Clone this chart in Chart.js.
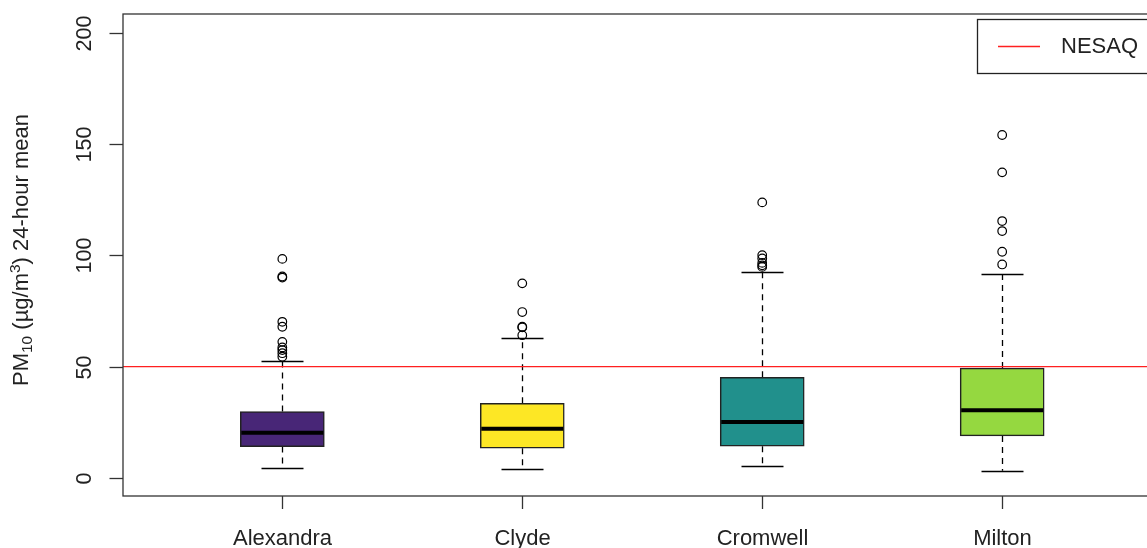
<!DOCTYPE html>
<html>
<head>
<meta charset="utf-8">
<script src="https://cdn.jsdelivr.net/npm/chart.js@4/dist/chart.umd.min.js"></script>
<style>
  html, body { margin: 0; padding: 0; background: #fff; overflow: hidden; }
  #wrap { width: 1167px; height: 548px; }
</style>
</head>
<body>
<div id="wrap"><canvas id="pmChart" width="1167" height="548"></canvas></div>
<script>
// Dữ liệu: các trạm và thống kê hộp
const sites = ['Alexandra', 'Clyde', 'Cromwell', 'Milton'];
const whiskerLow = [4.4, 3.8, 5.2, 3.2];
const q1 = [14.0, 13.3, 14.2, 18.8];
const median = [20.2, 22.0, 25.1, 30.4];
const q3 = [29.8, 33.5, 45.2, 49.3];
const whiskerHigh = [52.4, 62.9, 92.6, 91.4];
const outAlexandra = [98.4, 90.5, 90.0, 70.1, 67.9, 61.1, 58.6, 57.4, 56.0, 54.4];
const outClyde = [87.4, 74.5, 67.9, 67.6, 64.1];
const outCromwell = [123.8, 100.1, 98.6, 96.6, 95.5, 94.8];
const outMilton = [154.1, 137.3, 115.4, 110.9, 101.6, 95.9];
const boxColors = ['#482677', '#FDE725', '#21908C', '#95D840'];
const yTicks = [0, 50, 100, 150, 200];
const nesaq = 50;

const X_MIN = 0.336, X_MAX = 4.664;
const FONT = '"Liberation Sans", Arial, sans-serif';

const outliers = [outAlexandra, outClyde, outCromwell, outMilton]
  .flatMap((arr, i) => arr.map(v => ({ x: i + 1, y: v })));

// Vẽ râu, trung vị, trục và chú thích theo kiểu R
const boxplotExtras = {
  id: 'boxplotExtras',
  beforeDatasetsDraw(chart) {
    const { ctx, scales: { x, y } } = chart;
    ctx.save();
    ctx.strokeStyle = '#000';
    ctx.lineWidth = 1.3;
    sites.forEach((s, i) => {
      const cx = Math.round(x.getPixelForValue(i + 1)) + 0.5;
      const half = (x.getPixelForValue(i + 1.0875) - x.getPixelForValue(i + 1));
      ctx.setLineDash([6, 5]);
      ctx.beginPath();
      ctx.moveTo(cx, y.getPixelForValue(q3[i]));
      ctx.lineTo(cx, y.getPixelForValue(whiskerHigh[i]));
      ctx.moveTo(cx, y.getPixelForValue(q1[i]));
      ctx.lineTo(cx, y.getPixelForValue(whiskerLow[i]));
      ctx.stroke();
      ctx.setLineDash([]);
      ctx.beginPath();
      [whiskerHigh[i], whiskerLow[i]].forEach(v => {
        const py = Math.round(y.getPixelForValue(v)) + 0.5;
        ctx.moveTo(cx - half, py);
        ctx.lineTo(cx + half, py);
      });
      ctx.stroke();
    });
    ctx.restore();
  },
  afterDatasetsDraw(chart) {
    const { ctx, chartArea: a, scales: { x, y } } = chart;
    ctx.save();
    // trung vị
    ctx.strokeStyle = '#000';
    ctx.lineWidth = 4;
    sites.forEach((s, i) => {
      const l = x.getPixelForValue(i + 1 - 0.175) + 1;
      const r = x.getPixelForValue(i + 1 + 0.175) - 1;
      const py = y.getPixelForValue(median[i]);
      ctx.beginPath();
      ctx.moveTo(l, py);
      ctx.lineTo(r, py);
      ctx.stroke();
    });
    // khung
    ctx.strokeStyle = '#333';
    ctx.lineWidth = 1.3;
    ctx.strokeRect(a.left, a.top, a.right - a.left, a.bottom - a.top);
    // trục y
    ctx.fillStyle = '#222';
    ctx.font = '21.5px ' + FONT;
    yTicks.forEach(t => {
      const py = Math.round(y.getPixelForValue(t)) + 0.5;
      ctx.beginPath();
      ctx.moveTo(a.left - 13.5, py);
      ctx.lineTo(a.left, py);
      ctx.stroke();
      ctx.save();
      ctx.translate(90.5, py);
      ctx.rotate(-Math.PI / 2);
      ctx.textAlign = 'center';
      ctx.textBaseline = 'alphabetic';
      ctx.fillText(String(t), 0, 0);
      ctx.restore();
    });
    // trục x
    ctx.font = '22px ' + FONT;
    ctx.textAlign = 'center';
    ctx.textBaseline = 'alphabetic';
    sites.forEach((s, i) => {
      const px = Math.round(x.getPixelForValue(i + 1)) + 0.5;
      ctx.beginPath();
      ctx.moveTo(px, a.bottom);
      ctx.lineTo(px, a.bottom + 13);
      ctx.stroke();
      ctx.fillText(s, px, 545);
    });
    // tiêu đề trục y: PM10 (µg/m3) 24-hour mean
    const parts = [
      { t: 'PM', f: 22, dy: 0 },
      { t: '10', f: 15.5, dy: 4 },
      { t: ' (\u00b5g/m', f: 22, dy: 0 },
      { t: '3', f: 15.5, dy: -8 },
      { t: ') 24-hour mean', f: 22, dy: 0 }
    ];
    let total = 0;
    parts.forEach(p => { ctx.font = p.f + 'px ' + FONT; p.w = ctx.measureText(p.t).width; total += p.w; });
    ctx.save();
    ctx.translate(28, 250);
    ctx.rotate(-Math.PI / 2);
    ctx.textAlign = 'left';
    let cur = -total / 2;
    parts.forEach(p => {
      ctx.font = p.f + 'px ' + FONT;
      ctx.fillText(p.t, cur, p.dy);
      cur += p.w;
    });
    ctx.restore();
    // chú thích
    ctx.strokeStyle = '#222';
    ctx.lineWidth = 1.3;
    ctx.fillStyle = '#fff';
    ctx.fillRect(977, 19, 180, 55);
    ctx.strokeRect(977.5, 19.5, 178, 54);
    ctx.strokeStyle = '#ff2020';
    ctx.lineWidth = 1.3;
    ctx.beginPath();
    ctx.moveTo(998, 46.5);
    ctx.lineTo(1040, 46.5);
    ctx.stroke();
    ctx.fillStyle = '#222';
    ctx.font = '22px ' + FONT;
    ctx.textAlign = 'left';
    ctx.textBaseline = 'middle';
    ctx.fillText('NESAQ', 1061, 47);
    ctx.restore();
  }
};

const ctx = document.getElementById('pmChart').getContext('2d');
const pmChart = new Chart(ctx, {
  data: {
    datasets: [
      {
        type: 'line',
        label: 'NESAQ',
        data: [{ x: X_MIN, y: nesaq }, { x: X_MAX, y: nesaq }],
        borderColor: '#ff2020',
        borderWidth: 1.3,
        pointRadius: 0,
        order: 0
      },
      {
        type: 'scatter',
        label: 'outliers',
        data: outliers,
        pointStyle: 'circle',
        pointRadius: 4.3,
        borderColor: '#000',
        backgroundColor: 'rgba(0,0,0,0)',
        borderWidth: 1.2,
        order: 1
      },
      {
        type: 'bar',
        label: 'boxes',
        data: sites.map((s, i) => ({ x: i + 1, y: [q1[i], q3[i]] })),
        backgroundColor: boxColors,
        borderColor: '#222',
        borderWidth: 1.5,
        borderSkipped: false,
        barThickness: 84,
        grouped: false,
        order: 2
      }
    ]
  },
  options: {
    responsive: false,
    animation: false,
    devicePixelRatio: 1,
    layout: { padding: { left: 123, top: 14, right: 1, bottom: 52 } },
    plugins: { legend: { display: false }, tooltip: { enabled: false } },
    scales: {
      x: { type: 'linear', min: X_MIN, max: X_MAX, offset: false, display: false },
      y: { type: 'linear', min: -8.2, max: 208.5, display: false }
    }
  },
  plugins: [boxplotExtras]
});
</script>
</body>
</html>
